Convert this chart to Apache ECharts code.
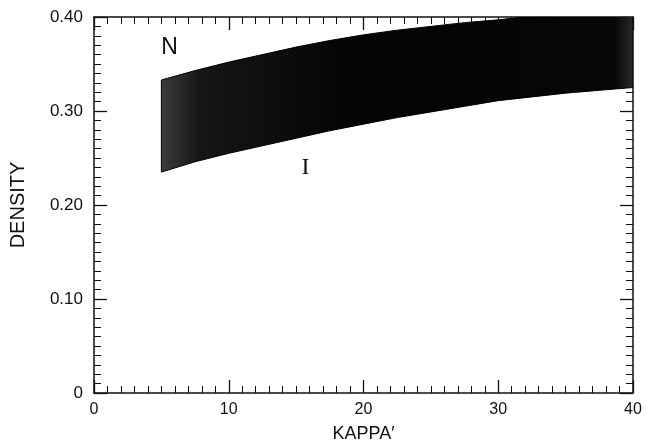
<!DOCTYPE html>
<html>
<head>
<meta charset="utf-8">
<script src="https://cdn.jsdelivr.net/npm/echarts@6/dist/echarts.min.js"></script>
<style>
html,body{margin:0;padding:0;background:#fff;}
#chart{width:648px;height:440px;}
</style>
</head>
<body>
<div id="chart"></div>
<script>
// KAPPA' sample positions
var kappa = [5, 7.5, 10, 12.5, 15, 17.5, 20, 22.5, 25, 27.5, 30, 32.5, 35, 37.5, 40];
// Upper boundary of the band (N side)
var upperDensity = [0.333, 0.343, 0.352, 0.360, 0.368, 0.375, 0.381, 0.386, 0.390, 0.394, 0.397, 0.401, 0.404, 0.407, 0.410];
// Lower boundary of the band (I side)
var lowerDensity = [0.235, 0.246, 0.255, 0.263, 0.271, 0.279, 0.286, 0.293, 0.299, 0.305, 0.311, 0.315, 0.319, 0.322, 0.325];
// Tick labels
var xTicks = [0, 10, 20, 30, 40];
var yTicks = [0, 0.10, 0.20, 0.30, 0.40];
// Annotations
var annoText = ['N', 'I'];
var annoX = [5.6, 15.7];
var annoY = [0.367, 0.240];

var chart = echarts.init(document.getElementById('chart'), null, {renderer: 'canvas'});

var font = '"Liberation Sans", Arial, Helvetica, sans-serif';
var serif = '"Liberation Serif", "DejaVu Serif", serif';

function axisCommon() {
  return {
    axisLine: {show: true, onZero: false, lineStyle: {color: '#111', width: 1.5}},
    axisTick: {show: true, inside: true, length: 13, lineStyle: {color: '#111', width: 1.3}},
    minorTick: {show: true, splitNumber: 10, length: 7, lineStyle: {color: '#111', width: 1}},
    splitLine: {show: false}
  };
}
function xAxisDef(pos, showLabel) {
  return Object.assign({
    type: 'value', position: pos, min: 0, max: 40, interval: 10,
    name: showLabel ? 'KAPPA\u2032' : '',
    nameLocation: 'middle', nameGap: 32,
    nameTextStyle: {fontFamily: font, fontSize: 18, color: '#111'},
    axisLabel: {show: showLabel, margin: 9, fontFamily: font, fontSize: 16, color: '#111',
      formatter: function (v) { return xTicks.indexOf(v) >= 0 ? String(v) : ''; }}
  }, axisCommon());
}
function yAxisDef(pos, showLabel) {
  return Object.assign({
    type: 'value', position: pos, min: 0, max: 0.4, interval: 0.1,
    name: showLabel ? 'DENSITY' : '',
    nameLocation: 'middle', nameGap: 66,
    nameTextStyle: {fontFamily: font, fontSize: 20, color: '#111'},
    axisLabel: {show: showLabel, margin: 11, fontFamily: font, fontSize: 17, color: '#111',
      formatter: function (v) { return v === 0 ? '0' : v.toFixed(2); }}
  }, axisCommon());
}

var bandData = kappa.map(function (k, i) { return [k, lowerDensity[i], upperDensity[i]]; });
var annoData = annoText.map(function (t, i) { return [annoX[i], annoY[i], i]; });

chart.setOption({
  backgroundColor: '#fff',
  animation: false,
  grid: {left: 94, right: 15, top: 17, bottom: 47, containLabel: false, outerBoundsMode: 'none'},
  xAxis: [xAxisDef('bottom', true), xAxisDef('top', false)],
  yAxis: [yAxisDef('left', true), yAxisDef('right', false)],
  series: [
    {
      type: 'custom',
      data: bandData,
      silent: true,
      z: 1,
      renderItem: function (params, api) {
        if (params.dataIndex !== 0) return null;
        var up = [], lo = [];
        for (var i = 0; i < bandData.length; i++) {
          up.push(api.coord([bandData[i][0], bandData[i][2]]));
          lo.push(api.coord([bandData[i][0], bandData[i][1]]));
        }
        var pts = up.concat(lo.reverse());
        var cs = params.coordSys;
        return {
          type: 'group',
          children: [{
            type: 'polygon',
            shape: {points: pts},
            style: {
              fill: new echarts.graphic.LinearGradient(0, 0, 1, 0, [
                {offset: 0, color: '#3c3c3c'},
                {offset: 0.08, color: '#161616'},
                {offset: 0.4, color: '#040404'},
                {offset: 0.96, color: '#060606'},
                {offset: 1, color: '#2a2a2a'}
              ]),
              stroke: '#000', lineWidth: 1
            }
          }],
          clipPath: {type: 'rect', shape: {x: cs.x, y: cs.y, width: cs.width, height: cs.height}}
        };
      }
    },
    {
      type: 'custom',
      data: annoData,
      silent: true,
      z: 5,
      renderItem: function (params, api) {
        var p = api.coord([api.value(0), api.value(1)]);
        var idx = api.value(2);
        return {
          type: 'text',
          x: p[0], y: p[1],
          style: {
            text: annoText[idx],
            fill: '#111',
            font: idx === 0 ? ('23px ' + font) : ('24px ' + serif),
            align: 'center', verticalAlign: 'middle'
          }
        };
      }
    }
  ]
});
</script>
</body>
</html>
